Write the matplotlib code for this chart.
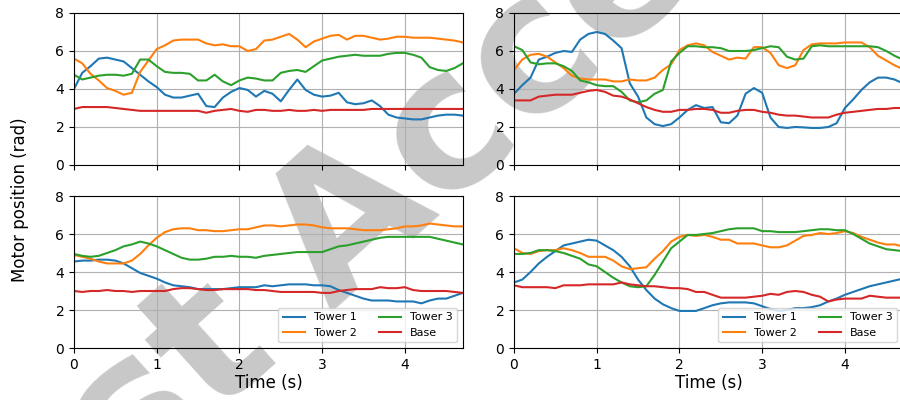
import numpy as np
import matplotlib
matplotlib.use("Agg")
import matplotlib.pyplot as plt

# time axis, 0.1 s steps
t = np.arange(48) * 0.1

# top-left panel
tl_tower1 = [4.0, 4.85, 5.2, 5.6, 5.65, 5.55, 5.45, 5.1, 4.75, 4.4, 4.1, 3.7, 3.55, 3.55, 3.65, 3.75,
             3.1, 3.05, 3.55, 3.85, 4.05, 3.95, 3.6, 3.9, 3.75, 3.35, 3.95, 4.5, 3.95, 3.7, 3.6, 3.65,
             3.8, 3.3, 3.2, 3.25, 3.4, 3.1, 2.65, 2.5, 2.45, 2.4, 2.4, 2.5, 2.6, 2.65, 2.65, 2.6]
tl_tower2 = [5.6, 5.35, 4.8, 4.45, 4.05, 3.9, 3.7, 3.8, 4.9, 5.5, 6.1, 6.3, 6.55, 6.6, 6.6, 6.6,
             6.4, 6.3, 6.35, 6.25, 6.25, 6.0, 6.1, 6.55, 6.6, 6.75, 6.9, 6.6, 6.2, 6.5, 6.65, 6.8,
             6.85, 6.6, 6.8, 6.8, 6.7, 6.6, 6.65, 6.75, 6.75, 6.7, 6.7, 6.7, 6.65, 6.6, 6.55, 6.45]
tl_tower3 = [4.75, 4.5, 4.6, 4.7, 4.75, 4.75, 4.7, 4.8, 5.55, 5.55, 5.2, 4.9, 4.85, 4.85, 4.8, 4.45,
             4.45, 4.75, 4.4, 4.2, 4.45, 4.6, 4.55, 4.45, 4.45, 4.85, 4.95, 5.0, 4.9, 5.2, 5.5, 5.6,
             5.7, 5.75, 5.8, 5.75, 5.75, 5.75, 5.85, 5.9, 5.9, 5.8, 5.65, 5.15, 5.0, 4.95, 5.1, 5.35]
tl_base = [2.95, 3.05, 3.05, 3.05, 3.05, 3.0, 2.95, 2.9, 2.85, 2.85, 2.85, 2.85, 2.85, 2.85, 2.85, 2.85,
           2.75, 2.85, 2.9, 2.95, 2.85, 2.8, 2.9, 2.9, 2.85, 2.85, 2.9, 2.85, 2.85, 2.9, 2.85, 2.9,
           2.9, 2.9, 2.9, 2.9, 2.95, 2.95, 2.95, 2.95, 2.95, 2.95, 2.95, 2.95, 2.95, 2.95, 2.95, 2.95]

# top-right panel
tr_tower1 = [3.75, 4.2, 4.6, 5.55, 5.7, 5.9, 6.0, 5.95, 6.6, 6.9, 7.0, 6.9, 6.55, 6.15, 4.3, 3.6,
             2.5, 2.15, 2.05, 2.15, 2.5, 2.9, 3.15, 3.0, 3.05, 2.25, 2.2, 2.6, 3.75, 4.05, 3.8, 2.5,
             2.0, 1.95, 2.0, 1.98, 1.95, 1.95, 2.0, 2.2, 3.0, 3.45, 3.95, 4.35, 4.6, 4.6, 4.5, 4.3]
tr_tower2 = [5.0, 5.55, 5.8, 5.85, 5.7, 5.4, 5.1, 4.7, 4.55, 4.5, 4.5, 4.5, 4.4, 4.4, 4.5, 4.45,
             4.45, 4.6, 5.0, 5.3, 6.05, 6.3, 6.4, 6.3, 5.95, 5.75, 5.55, 5.65, 5.6, 6.2, 6.2, 5.9,
             5.25, 5.1, 5.25, 6.05, 6.35, 6.4, 6.4, 6.4, 6.45, 6.45, 6.45, 6.2, 5.75, 5.5, 5.25, 5.05]
tr_tower3 = [6.25, 6.05, 5.4, 5.3, 5.35, 5.35, 5.2, 4.95, 4.45, 4.35, 4.2, 4.15, 4.15, 3.85, 3.4, 3.3,
             3.4, 3.75, 3.95, 5.45, 5.9, 6.25, 6.25, 6.2, 6.2, 6.15, 6.0, 6.0, 6.0, 6.05, 6.15, 6.25,
             6.2, 5.7, 5.55, 5.6, 6.25, 6.3, 6.25, 6.25, 6.25, 6.25, 6.25, 6.25, 6.2, 6.0, 5.75, 5.55]
tr_base = [3.4, 3.4, 3.4, 3.6, 3.65, 3.7, 3.7, 3.7, 3.8, 3.9, 3.95, 3.85, 3.65, 3.6, 3.45, 3.25,
           3.05, 2.9, 2.8, 2.8, 2.9, 2.9, 2.95, 2.95, 2.9, 2.75, 2.75, 2.85, 2.9, 2.9, 2.8, 2.75,
           2.65, 2.6, 2.6, 2.55, 2.5, 2.5, 2.5, 2.65, 2.75, 2.8, 2.85, 2.9, 2.95, 2.95, 3.0, 3.0]

# bottom-left panel
bl_tower1 = [4.55, 4.6, 4.6, 4.65, 4.65, 4.6, 4.45, 4.2, 3.95, 3.8, 3.65, 3.45, 3.3, 3.25, 3.2, 3.1,
             3.1, 3.1, 3.1, 3.15, 3.2, 3.2, 3.2, 3.3, 3.25, 3.3, 3.35, 3.35, 3.35, 3.3, 3.3, 3.25,
             3.05, 2.9, 2.75, 2.6, 2.5, 2.5, 2.5, 2.45, 2.45, 2.45, 2.35, 2.5, 2.6, 2.6, 2.75, 2.9]
bl_tower2 = [4.9, 4.8, 4.7, 4.55, 4.45, 4.45, 4.45, 4.6, 4.95, 5.4, 5.8, 6.1, 6.25, 6.3, 6.3, 6.2,
             6.2, 6.15, 6.15, 6.2, 6.25, 6.25, 6.35, 6.45, 6.45, 6.4, 6.45, 6.5, 6.5, 6.45, 6.35, 6.3,
             6.3, 6.3, 6.25, 6.2, 6.2, 6.2, 6.25, 6.3, 6.4, 6.4, 6.45, 6.55, 6.5, 6.45, 6.4, 6.4]
bl_tower3 = [4.95, 4.85, 4.8, 4.85, 5.0, 5.15, 5.35, 5.45, 5.6, 5.5, 5.35, 5.15, 4.95, 4.75, 4.65, 4.65,
             4.7, 4.8, 4.8, 4.85, 4.8, 4.8, 4.75, 4.85, 4.9, 4.95, 5.0, 5.05, 5.05, 5.05, 5.05, 5.2,
             5.35, 5.4, 5.5, 5.6, 5.7, 5.8, 5.85, 5.85, 5.85, 5.85, 5.85, 5.85, 5.75, 5.65, 5.55, 5.45]
bl_base = [3.0, 2.95, 3.0, 3.0, 3.05, 3.0, 3.0, 2.95, 3.0, 3.0, 3.0, 3.0, 3.1, 3.15, 3.15, 3.1,
           3.05, 3.05, 3.1, 3.1, 3.1, 3.1, 3.05, 3.05, 3.0, 2.95, 2.95, 2.95, 2.95, 2.95, 2.9, 2.9,
           3.0, 3.05, 3.1, 3.1, 3.1, 3.2, 3.15, 3.15, 3.2, 3.05, 3.0, 3.0, 3.0, 3.0, 2.95, 2.9]

# bottom-right panel
br_tower1 = [3.45, 3.6, 4.0, 4.45, 4.8, 5.1, 5.4, 5.5, 5.6, 5.7, 5.65, 5.4, 5.15, 4.8, 4.3, 3.6,
             3.05, 2.6, 2.3, 2.1, 1.95, 1.95, 1.95, 2.1, 2.25, 2.35, 2.4, 2.4, 2.4, 2.35, 2.2, 2.05,
             1.95, 2.0, 2.1, 2.1, 2.15, 2.25, 2.45, 2.6, 2.8, 2.95, 3.1, 3.25, 3.35, 3.45, 3.55, 3.65]
br_tower2 = [5.25, 5.0, 4.95, 5.1, 5.15, 5.15, 5.25, 5.15, 5.0, 4.8, 4.8, 4.8, 4.6, 4.3, 4.15, 4.2,
             4.25, 4.7, 5.1, 5.6, 5.85, 5.95, 5.9, 5.95, 5.85, 5.7, 5.7, 5.5, 5.5, 5.5, 5.4, 5.3,
             5.3, 5.4, 5.65, 5.9, 5.95, 6.05, 6.0, 6.05, 6.15, 6.05, 5.85, 5.7, 5.55, 5.45, 5.45, 5.35]
br_tower3 = [4.95, 4.95, 5.0, 5.15, 5.15, 5.1, 5.0, 4.85, 4.7, 4.4, 4.3, 4.0, 3.7, 3.45, 3.25, 3.2,
             3.25, 3.85, 4.55, 5.25, 5.6, 5.95, 5.95, 6.0, 6.05, 6.15, 6.25, 6.3, 6.3, 6.3, 6.15, 6.15,
             6.1, 6.1, 6.1, 6.15, 6.2, 6.25, 6.25, 6.2, 6.2, 6.0, 5.75, 5.5, 5.35, 5.2, 5.15, 5.1]
br_base = [3.3, 3.2, 3.2, 3.2, 3.2, 3.15, 3.3, 3.3, 3.3, 3.35, 3.35, 3.35, 3.35, 3.45, 3.35, 3.3,
           3.25, 3.25, 3.2, 3.15, 3.15, 3.1, 2.95, 2.95, 2.8, 2.65, 2.65, 2.65, 2.65, 2.7, 2.75, 2.85,
           2.8, 2.95, 3.0, 2.95, 2.8, 2.7, 2.45, 2.55, 2.6, 2.6, 2.6, 2.75, 2.7, 2.65, 2.65, 2.65]

labels = ["Tower 1", "Tower 2", "Tower 3", "Base"]
colors = ["tab:blue", "tab:orange", "tab:green", "tab:red"]

panels = [
    (tl_tower1, tl_tower2, tl_tower3, tl_base),
    (tr_tower1, tr_tower2, tr_tower3, tr_base),
    (bl_tower1, bl_tower2, bl_tower3, bl_base),
    (br_tower1, br_tower2, br_tower3, br_base),
]

fig = plt.figure(figsize=(9, 4), dpi=100)

# watermark, sits behind the (transparent) axes
fig.text(0.548, 0.736, "Just Accepted", rotation=42, rotation_mode="anchor",
         ha="center", va="center", fontsize=138, fontweight="bold",
         color="#c8c8c8", zorder=-10)

# axes placement: [left, bottom, width, height]
boxes = [
    [0.0822, 0.5875, 0.432, 0.38],
    [0.5711, 0.5875, 0.432, 0.38],
    [0.0822, 0.13, 0.432, 0.38],
    [0.5711, 0.13, 0.432, 0.38],
]

for i, (box, series) in enumerate(zip(boxes, panels)):
    ax = fig.add_axes(box)
    ax.set_facecolor("none")
    for s, lab, c in zip(series, labels, colors):
        ax.plot(t, s, color=c, label=lab, linewidth=1.5)
    ax.set_xlim(0, 4.7)
    ax.set_ylim(0, 8)
    ax.set_xticks([0, 1, 2, 3, 4])
    ax.set_yticks([0, 2, 4, 6, 8])
    ax.grid(True)
    ax.tick_params(labelsize=10)
    if i < 2:
        ax.tick_params(labelbottom=False)
    else:
        ax.set_xlabel("Time (s)", fontsize=12, labelpad=2)
        ax.legend(loc="lower right", ncol=2, fontsize=8)

fig.text(0.022, 0.5, "Motor position (rad)", rotation=90, va="center", ha="center", fontsize=12)

fig.savefig("out.png", dpi=100)
